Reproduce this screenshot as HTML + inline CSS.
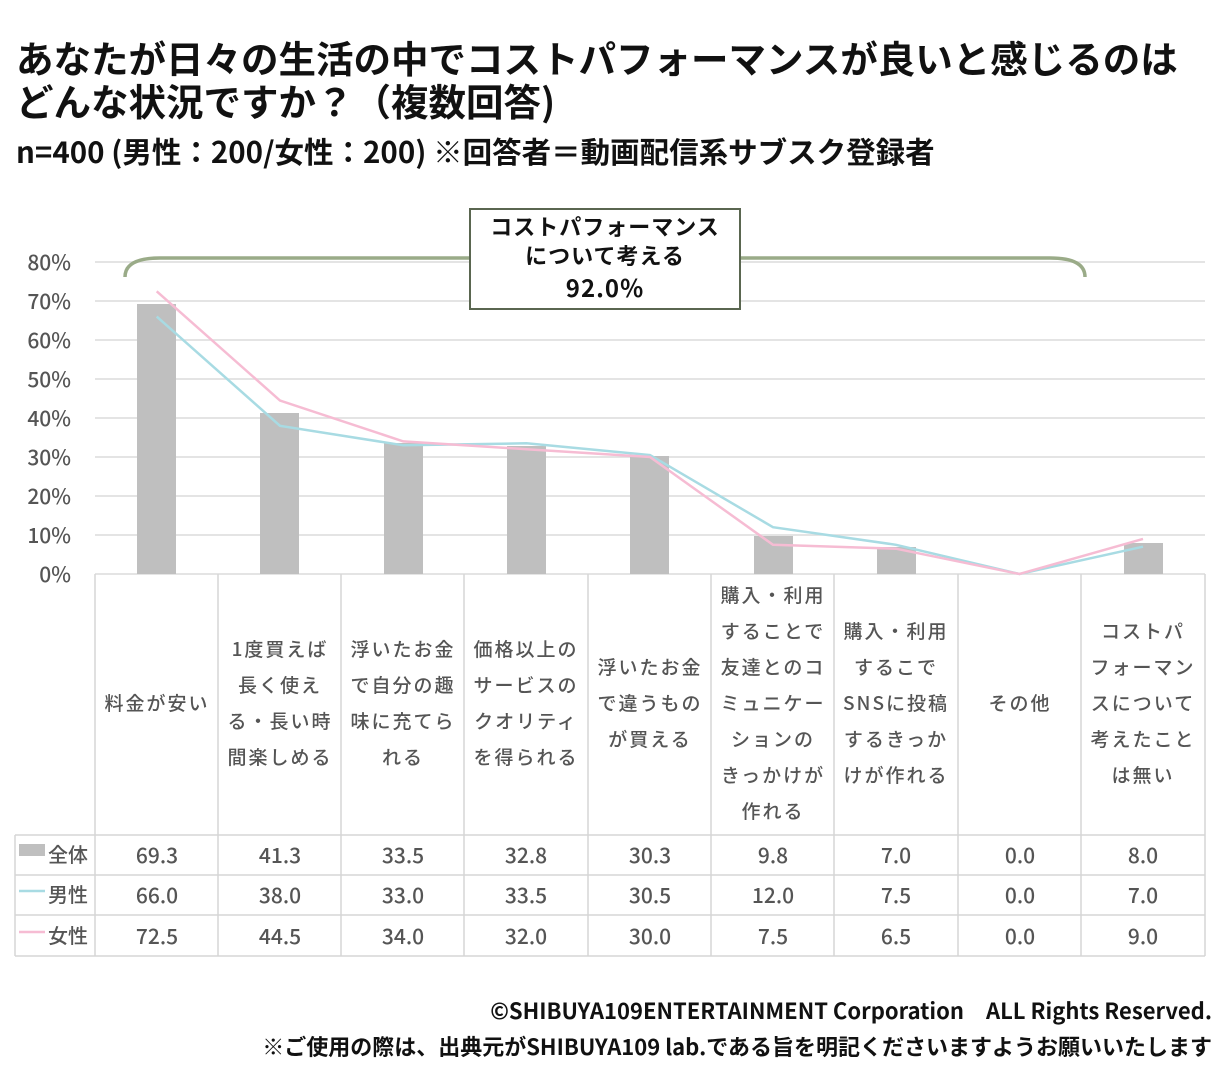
<!DOCTYPE html>
<html><head><meta charset="utf-8"><style>
body{margin:0;background:#fff;width:1229px;height:1080px;overflow:hidden}
svg{display:block;font-family:"Liberation Sans","Noto Sans CJK JP",sans-serif}
</style></head><body>
<svg width="1229" height="1080" viewBox="0 0 1229 1080">
<g font-family="'Noto Sans CJK JP',sans-serif" font-weight="bold" fill="#111">
<text x="16" y="73" font-size="37.5">あなたが日々の生活の中でコストパフォーマンスが良いと感じるのは</text>
<text x="16" y="116" font-size="37.5">どんな状況ですか？（複数回答)</text>
<text x="16" y="163" font-size="29.5">n=400 (男性：200/女性：200) ※回答者＝動画配信系サブスク登録者</text>
</g>
<g stroke="#dcdcdc" stroke-width="1.5">
<line x1="95" x2="1205" y1="262" y2="262"/><line x1="95" x2="1205" y1="301" y2="301"/>
<line x1="95" x2="1205" y1="340" y2="340"/><line x1="95" x2="1205" y1="379" y2="379"/>
<line x1="95" x2="1205" y1="418" y2="418"/><line x1="95" x2="1205" y1="457" y2="457"/>
<line x1="95" x2="1205" y1="496" y2="496"/><line x1="95" x2="1205" y1="535" y2="535"/>
<line x1="95" x2="1205" y1="574" y2="574"/>
</g>
<g font-family="'Noto Sans CJK JP',sans-serif" font-size="21" fill="#555" text-anchor="end" font-weight="500">
<text x="71" y="270">80%</text><text x="71" y="309">70%</text><text x="71" y="348">60%</text>
<text x="71" y="387">50%</text><text x="71" y="426">40%</text><text x="71" y="465">30%</text>
<text x="71" y="504">20%</text><text x="71" y="543">10%</text><text x="71" y="582">0%</text>
</g>
<g fill="#bfbfbf">
<rect x="137" y="304" width="39" height="270"/>
<rect x="260" y="413" width="39" height="161"/>
<rect x="384" y="443" width="39" height="131"/>
<rect x="507" y="446" width="39" height="128"/>
<rect x="630" y="456" width="39" height="118"/>
<rect x="754" y="536" width="39" height="38"/>
<rect x="877" y="547" width="39" height="27"/>
<rect x="1124" y="543" width="39" height="31"/>
</g>
<polyline fill="none" stroke="#a8dbe3" stroke-width="2.5" points="156.7,316.6 280,425.8 403.3,445.3 526.5,443.3 650,455.1 773,527.2 896,544.8 1019.5,574 1143,546.7"/>
<polyline fill="none" stroke="#f6bcd3" stroke-width="2.5" points="156.7,291.3 280,400.5 403.3,441.4 526.5,449.2 650,457 773,544.8 896,548.7 1019.5,574 1143,538.9"/>
<path d="M125,277 Q125,258 160,258 L1050,258 Q1085,258 1085,277" fill="none" stroke="#9aab88" stroke-width="3.5"/>
<rect x="470" y="209" width="270" height="100" fill="#fff" stroke="#5a6650" stroke-width="2"/>
<g font-family="'Noto Sans CJK JP',sans-serif" font-weight="bold" font-size="22" fill="#111" text-anchor="middle" letter-spacing="1">
<text x="605" y="235">コストパフォーマンス</text>
<text x="605" y="264">について考える</text>
<text x="605" y="297" font-size="24">92.0%</text>
</g>
<g stroke="#d6d6d6" stroke-width="1.5" fill="none">
<line x1="95" y1="574" x2="95" y2="956"/>
<line x1="218" y1="574" x2="218" y2="956"/><line x1="341" y1="574" x2="341" y2="956"/>
<line x1="464" y1="574" x2="464" y2="956"/><line x1="588" y1="574" x2="588" y2="956"/>
<line x1="711" y1="574" x2="711" y2="956"/><line x1="834" y1="574" x2="834" y2="956"/>
<line x1="958" y1="574" x2="958" y2="956"/><line x1="1081" y1="574" x2="1081" y2="956"/>
<line x1="1205" y1="574" x2="1205" y2="956"/>
<line x1="15" y1="835" x2="1205" y2="835"/><line x1="15" y1="875" x2="1205" y2="875"/>
<line x1="15" y1="915" x2="1205" y2="915"/><line x1="15" y1="956" x2="1205" y2="956"/>
<line x1="15" y1="835" x2="15" y2="956"/>
</g>
<g font-family="'Noto Sans CJK JP',sans-serif" font-size="19" fill="#555" text-anchor="middle" letter-spacing="2" font-weight="500">
<text x="157" y="710">料金が安い</text>
<text x="280" y="656">1度買えば</text><text x="280" y="692">長く使え</text><text x="280" y="728">る・長い時</text><text x="280" y="764">間楽しめる</text>
<text x="403" y="656">浮いたお金</text><text x="403" y="692">で自分の趣</text><text x="403" y="728">味に充てら</text><text x="403" y="764">れる</text>
<text x="526" y="656">価格以上の</text><text x="526" y="692">サービスの</text><text x="526" y="728">クオリティ</text><text x="526" y="764">を得られる</text>
<text x="650" y="674">浮いたお金</text><text x="650" y="710">で違うもの</text><text x="650" y="746">が買える</text>
<text x="773" y="602">購入・利用</text><text x="773" y="638">することで</text><text x="773" y="674">友達とのコ</text><text x="773" y="710">ミュニケー</text><text x="773" y="746">ションの</text><text x="773" y="782">きっかけが</text><text x="773" y="818">作れる</text>
<text x="896" y="638">購入・利用</text><text x="896" y="674">するこで</text><text x="896" y="710">SNSに投稿</text><text x="896" y="746">するきっか</text><text x="896" y="782">けが作れる</text>
<text x="1020" y="710">その他</text>
<text x="1143" y="638">コストパ</text><text x="1143" y="674">フォーマン</text><text x="1143" y="710">スについて</text><text x="1143" y="746">考えたこと</text><text x="1143" y="782">は無い</text>
</g>
<rect x="19" y="844" width="26" height="12" fill="#bfbfbf"/>
<line x1="19" y1="891" x2="45" y2="891" stroke="#a8dbe3" stroke-width="2.5"/>
<line x1="19" y1="932" x2="45" y2="932" stroke="#f6bcd3" stroke-width="2.5"/>
<g font-family="'Noto Sans CJK JP',sans-serif" font-size="20" fill="#555" font-weight="500">
<text x="48" y="862">全体</text><text x="48" y="902">男性</text><text x="48" y="943">女性</text>
</g>
<g font-family="'Noto Sans CJK JP',sans-serif" font-size="21" fill="#555" text-anchor="middle" font-weight="500">
<g transform="translate(0,863)"><text x="157">69.3</text><text x="280">41.3</text><text x="403">33.5</text><text x="526">32.8</text><text x="650">30.3</text><text x="773">9.8</text><text x="896">7.0</text><text x="1020">0.0</text><text x="1143">8.0</text></g>
<g transform="translate(0,903)"><text x="157">66.0</text><text x="280">38.0</text><text x="403">33.0</text><text x="526">33.5</text><text x="650">30.5</text><text x="773">12.0</text><text x="896">7.5</text><text x="1020">0.0</text><text x="1143">7.0</text></g>
<g transform="translate(0,944)"><text x="157">72.5</text><text x="280">44.5</text><text x="403">34.0</text><text x="526">32.0</text><text x="650">30.0</text><text x="773">7.5</text><text x="896">6.5</text><text x="1020">0.0</text><text x="1143">9.0</text></g>
</g>
<g font-family="'Noto Sans CJK JP',sans-serif" font-weight="bold" font-size="22" fill="#111" text-anchor="end">
<text x="1212" y="1019">©SHIBUYA109ENTERTAINMENT Corporation　ALL Rights Reserved.</text>
<text x="1212" y="1055">※ご使用の際は、出典元がSHIBUYA109 lab.である旨を明記くださいますようお願いいたします</text>
</g>
</svg>
</body></html>
